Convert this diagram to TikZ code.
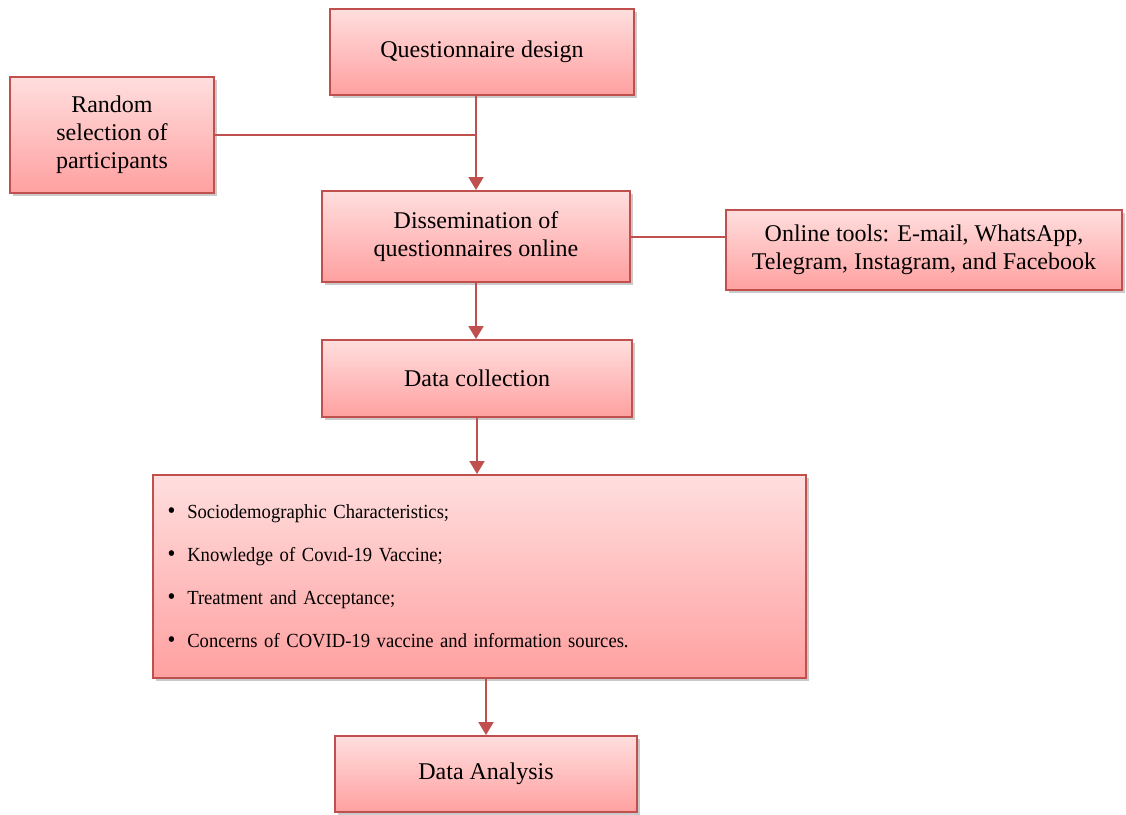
\documentclass[tikz,border=0pt]{standalone}
\usepackage{fontspec}
\setmainfont{Liberation Serif}
\newfontfamily\narrowserif[FakeStretch=0.93]{Liberation Serif}
\usetikzlibrary{arrows.meta,shadows}
\definecolor{boxred}{RGB}{192,80,77}
\definecolor{boxtop}{RGB}{255,222,222}
\definecolor{boxbottom}{RGB}{255,160,160}
\newcommand{\itemdot}{{\fontsize{12}{12}\selectfont\textbullet}\hspace{6pt}}
\begin{document}
\begin{tikzpicture}[
  x=0.5pt, y=-0.5pt,
  font=\fontsize{12}{14}\selectfont,
  box/.style={draw=boxred, line width=1pt, top color=boxtop, bottom color=boxbottom, align=center, inner sep=2pt,
    drop shadow={shadow xshift=1.5pt, shadow yshift=-1.5pt, opacity=0.35, fill=black!60}},
  arrow/.style={-{Triangle[width=7.5pt,length=6.5pt]}, line width=1pt, draw=boxred},
  link/.style={line width=1pt, draw=boxred}
]
\useasboundingbox (0,0) rectangle (1126,815);
\node[box, minimum width=152pt, minimum height=43pt] (design) at (482,52) {Questionnaire design};
\node[box, minimum width=102pt, minimum height=58pt] (random) at (112,135) {Random\\selection of\\participants};
\node[box, minimum width=154pt, minimum height=45.5pt] (dissem) at (476,236.5) {Dissemination of\\questionnaires online};
\node[box, minimum width=198pt, minimum height=40pt] (tools) at (924,250) {Online tools: E-mail, WhatsApp,\\Telegram, Instagram, and Facebook};
\node[box, minimum width=155pt, minimum height=38.5pt] (collect) at (477,378.5) {Data collection};
\node[box, minimum width=326.5pt, minimum height=101.5pt, inner sep=7pt, text width=312pt, align=left,
  font=\narrowserif\fontsize{10}{12}\selectfont] (items) at (479.5,576.5) {%
  \itemdot Sociodemographic Characteristics;\\[9.5pt]
  \itemdot Knowledge of Covıd-19 Vaccine;\\[9.5pt]
  \itemdot Treatment and Acceptance;\\[9.5pt]
  \itemdot Concerns of COVID-19 vaccine and information sources.};
\node[box, minimum width=151pt, minimum height=38pt] (analysis) at (486,774) {Data Analysis};
\coordinate (join) at (dissem.north |- random.east);
\draw[arrow] (dissem.north |- design.south) -- (dissem.north);
\draw[link] (random.east) -- (join);
\draw[link] (dissem.east) -- (dissem.east -| tools.west);
\draw[arrow] (dissem.south) -- (dissem.south |- collect.north);
\draw[arrow] (collect.south) -- (collect.south |- items.north);
\draw[arrow] (analysis.north |- items.south) -- (analysis.north);
\end{tikzpicture}
\end{document}
